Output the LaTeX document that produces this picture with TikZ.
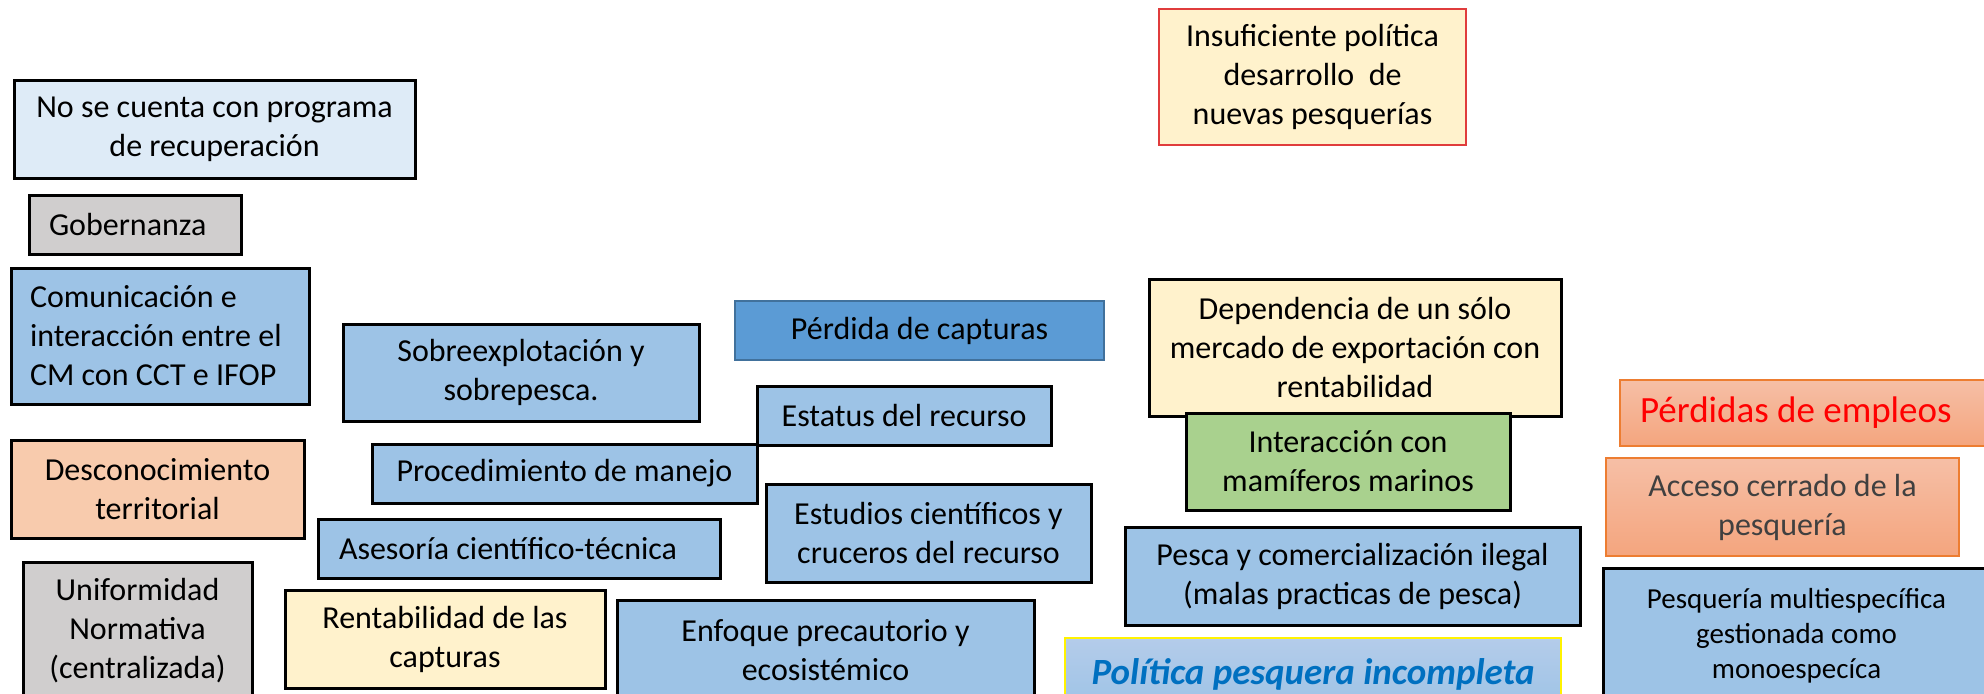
\documentclass[tikz,border=0pt]{standalone}
\usepackage{fontspec}
\setmainfont{Carlito}
\definecolor{lblue}{HTML}{DEEBF7}
\definecolor{mblue}{HTML}{9DC3E6}
\definecolor{dblue}{HTML}{5B9BD5}
\definecolor{dbord}{HTML}{41719C}
\definecolor{lgray}{HTML}{D0CECE}
\definecolor{peach}{HTML}{F8CBAD}
\definecolor{cream}{HTML}{FFF2CC}
\definecolor{lgreen}{HTML}{A9D18E}
\definecolor{salmtop}{HTML}{F6BFA6}
\definecolor{salmbot}{HTML}{F4A57E}
\definecolor{orbord}{HTML}{ED7D31}
\definecolor{poltop}{HTML}{B4CCEA}
\definecolor{polbot}{HTML}{9DC3E6}
\definecolor{poltext}{HTML}{0070C0}
\definecolor{redbord}{HTML}{E03C3C}
\definecolor{darktext}{HTML}{404040}
\tikzset{
  box/.style={draw=black, line width=1.5pt, inner sep=0pt, align=center,
    font=\fontsize{16}{19.5}\selectfont},
  leftbox/.style={box, align=flush left},
}
\begin{document}
\begin{tikzpicture}[x=0.5pt,y=-0.5pt]
\useasboundingbox (0,0) rectangle (1984,693);
\clip (0,0) rectangle (1984,693);
% left column
\node[box, fill=lblue, minimum width=200.5pt, minimum height=49pt] (nose) at (214.5,129) {No se cuenta con programa\\de recuperación};
\node[leftbox, fill=lgray, text width=86pt, inner xsep=10pt, minimum height=29.5pt] (gob) at (135,224.5) {Gobernanza};
\node[leftbox, fill=mblue, text width=130pt, inner xsep=9.5pt, minimum height=68pt] (com) at (160,336) {Comunicación e\\interacción entre el\\CM con CCT e IFOP};
\node[box, fill=peach, minimum width=146.5pt, minimum height=49pt] (desc) at (157.5,489) {Desconocimiento\\territorial};
\node[box, fill=lgray, minimum width=114.5pt, minimum height=69pt] (unif) at (137.5,631) {Uniformidad\\Normativa\\(centralizada)};
% middle
\node[box, fill=mblue, minimum width=178pt, minimum height=48.5pt] (sobre) at (521,372.5) {Sobreexplotación y\\sobrepesca.};
\node[box, fill=dblue, draw=dbord, line width=1pt, minimum width=184.5pt, minimum height=29.5pt] (perd) at (919.5,330.5) {Pérdida de capturas};
\node[box, fill=mblue, minimum width=192.5pt, minimum height=29.5pt] (proc) at (564.5,473.5) {Procedimiento de manejo};
\node[box, fill=mblue, minimum width=147pt, minimum height=29.5pt] (estat) at (904,415.5) {Estatus del recurso};
\node[box, fill=mblue, minimum width=162.5pt, minimum height=49pt] (estud) at (928.5,533) {Estudios científicos y\\cruceros del recurso};
\node[leftbox, fill=mblue, text width=180pt, inner xsep=10.5pt, minimum height=29.5pt] (ases) at (519,548.5) {Asesoría científico-técnica};
\node[box, fill=cream, minimum width=160pt, minimum height=49pt] (rent) at (445,639) {Rentabilidad de las\\capturas};
\node[box, fill=mblue, minimum width=208.5pt, minimum height=50pt] (enf) at (825.5,650) {Enfoque precautorio y\\ecosistémico};
% right middle
\node[box, fill=cream, draw=redbord, line width=1pt, minimum width=153.5pt, minimum height=68pt] (insuf) at (1312.5,77) {Insuficiente política\\desarrollo\ \ de\\nuevas pesquerías};
\node[box, fill=cream, minimum width=206pt, minimum height=68.5pt] (dep) at (1355,347.5) {Dependencia de un sólo\\mercado de exportación con\\rentabilidad};
\node[box, fill=lgreen, minimum width=162pt, minimum height=48.5pt] (inter) at (1348,461.5) {Interacción con\\mamíferos marinos};
\node[box, fill=mblue, minimum width=227.5pt, minimum height=49pt] (pesca) at (1352.5,576) {Pesca y comercialización ilegal\\(malas practicas de pesca)};
\node[box, draw=yellow, line width=1pt, top color=poltop, bottom color=polbot, text=poltext, font=\fontsize{18.5}{22}\selectfont\bfseries\itshape, minimum width=248pt, minimum height=36pt] (pol) at (1313,674) {Política pesquera incompleta};
% right column
\node[leftbox, draw=orbord, line width=1pt, top color=salmtop, bottom color=salmbot, text=red, font=\fontsize{18.5}{22}\selectfont, text width=170pt, inner xsep=10pt, minimum height=33pt] (empl) at (1810,413) {Pérdidas de empleos};
\node[box, draw=orbord, line width=1pt, top color=salmtop, bottom color=salmbot, text=darktext, minimum width=176.5pt, minimum height=49pt] (acc) at (1782.5,507) {Acceso cerrado de la\\pesquería};
\node[box, fill=mblue, font=\fontsize{14.5}{17.5}\selectfont, minimum width=193.5pt, minimum height=67.5pt] (multi) at (1796.5,636) {Pesquería multiespecífica\\gestionada como\\monoespecíca};
\end{tikzpicture}
\end{document}
